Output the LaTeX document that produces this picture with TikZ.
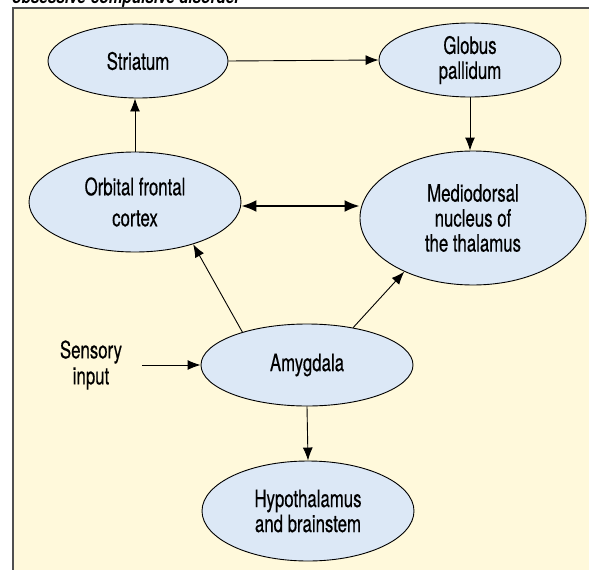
\documentclass[tikz,border=0pt]{standalone}
\usepackage{fontspec}
\setmainfont{TeX Gyre Heros}[FakeStretch=0.70, FakeBold=0.4]
\newfontfamily\titlefont{TeX Gyre Heros}[FakeStretch=0.85]
\usetikzlibrary{shapes.geometric,arrows.meta}
\definecolor{bgyellow}{HTML}{FFF9DB}
\definecolor{nodeblue}{HTML}{DCE8F6}
\definecolor{framegray}{HTML}{505050}
\tikzset{
  region/.style={ellipse, draw=black, line width=0.9pt, fill=nodeblue, inner sep=0pt,
    align=center, font=\fontsize{24}{25}\selectfont},
  plain/.style={align=center, font=\fontsize{24}{26}\selectfont, inner sep=0pt},
  conn/.style={line width=0.9pt, -{Latex[length=13pt,width=10pt]}},
  dbl/.style={line width=2pt, {Latex[length=15pt,width=12pt]}-{Latex[length=15pt,width=12pt]}}
}
\begin{document}
\begin{tikzpicture}[x=1pt,y=-1pt]
\useasboundingbox (0,0) rectangle (589,570);
\clip (0,0) rectangle (589,570);
\fill[bgyellow] (13,8) rectangle (589,570);
\fill[white] (0,0) rectangle (589,7);
\node[anchor=base west, inner sep=0pt, font=\titlefont\bfseries\itshape\fontsize{18}{20}\selectfont] (title) at (12,3) {obsessive-compulsive disorder};
\draw[framegray, line width=2pt] (13,570) -- (13,8) -- (589,8);

\node[region, minimum width=180pt, minimum height=74pt] (str) at (138,61) {Striatum};
\node[region, minimum width=182pt, minimum height=74pt] (gp) at (470,60) {Globus\\pallidum};
\node[region, minimum width=212pt, minimum height=100pt, font=\fontsize{24}{31}\selectfont] (ofc) at (135,202) {Orbital frontal\\cortex};
\node[region, minimum width=226pt, minimum height=134pt] (md) at (473,218) {Mediodorsal\\nucleus of\\the thalamus};
\node[region, minimum width=212pt, minimum height=82pt] (amy) at (307,365) {Amygdala};
\node[region, minimum width=212pt, minimum height=100pt] (hyp) at (308,511) {Hypothalamus\\and brainstem};
\node[plain] (sens) at (91,365) {Sensory\\input};

\draw[conn] (str.east) -- (gp.west);
\draw[conn] (ofc.north) -- (ofc.north |- str.south);
\draw[conn] (gp.south) -- (gp.south |- md.north);
\draw[dbl] ([yshift=-4pt]ofc.east) -- ([yshift=-4pt]ofc.east -| md.west);
\draw[conn] (amy.153) -- (ofc.-36.6);
\draw[conn] (amy.39.6) -- (md.218);
\draw[conn] ([xshift=20pt]sens.east) -- (amy.west);
\draw[conn] (amy.south) -- (hyp.north);
\end{tikzpicture}
\end{document}
